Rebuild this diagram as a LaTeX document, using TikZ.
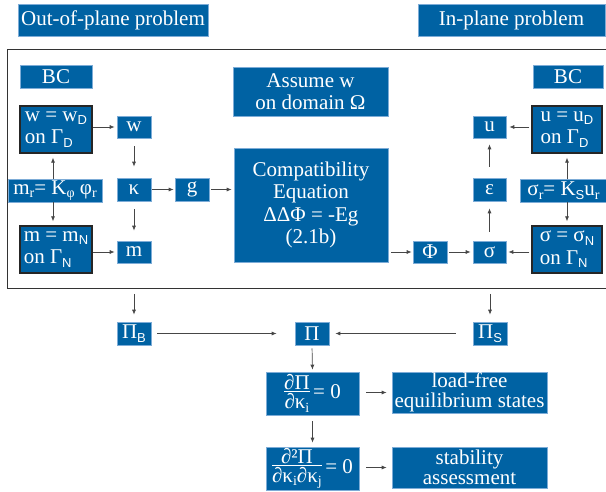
\documentclass[tikz,border=0pt]{standalone}
\usepackage{fontspec}
\setmainfont{Liberation Serif}
\newfontfamily\serifmain{Liberation Serif}
\newfontfamily\subsf{Liberation Sans}
\usetikzlibrary{arrows.meta}
\definecolor{boxblue}{RGB}{0,98,163}
\definecolor{edgeblue}{RGB}{125,172,215}
\definecolor{arrowgray}{RGB}{70,70,70}
\newcommand\subs[1]{\raisebox{-3.5pt}{\fontsize{13}{13}\selectfont\subsf #1}}
\newcommand\subr[1]{\raisebox{-3.5pt}{\fontsize{14}{14}\selectfont #1}}
\newcommand\pfrac[2]{$\vcenter{\offinterlineskip\halign{\hfil##\hfil\cr #1\cr\noalign{\kern1.5pt\hrule height0.8pt\kern1.5pt}#2\cr}}$}
\tikzset{
  bx/.style={draw=edgeblue, line width=0.6pt, fill=boxblue, text=white, inner sep=0pt,
    font=\serifmain\fontsize{21}{22.5}\selectfont, align=center},
  bcbox/.style={bx, draw=black!85, line width=1.3pt, align=left},
  twoline/.style={font=\serifmain\fontsize{21}{20}\selectfont},
  sz/.style 2 args={minimum width=#1, minimum height=#2},
  arr/.style={draw=arrowgray, line width=0.7pt, -{Latex[length=5pt,width=4pt]}},
  framestyle/.style={draw=black!80, line width=1pt},
}
\begin{document}
\begin{tikzpicture}[x=1pt,y=-1pt]
\useasboundingbox (0,0) rectangle (606,492);
% frame
\draw[framestyle] (608,50) -- (7,50) -- (7,289) -- (608,289);
\coordinate (fB) at (134,289);
\coordinate (fS) at (490,289);
% headers
\node[bx, sz={190pt}{32pt}] (oop) at (113,20) {Out-of-plane problem};
\node[bx, sz={187pt}{32pt}] (ip) at (511.5,20) {In-plane problem};
% top row
\node[bx, sz={72pt}{23pt}] (bcL) at (56,76.5) {BC};
\node[bx, sz={155pt}{49pt}] (assume) at (310.5,91.5) {Assume w\\on domain Ω};
\node[bx, sz={70pt}{23pt}] (bcR) at (568,76.5) {BC};
% left column
\node[bcbox, sz={72pt}{47pt}] (wD) at (56,129.5) {w = w\subs{D}\\on Γ\subs{D}};
\node[bx, sz={94pt}{23pt}] (mr) at (55,190.5) {m\subr{r}= K\subr{φ} φ\subr{r}};
\node[bcbox, sz={72pt}{47pt}] (mN) at (56,249.5) {m = m\subs{N}\\on Γ\subs{N}};
\node[bx, sz={34pt}{22pt}] (w) at (134,127) {w};
\node[bx, sz={34pt}{23pt}] (kap) at (134,189.5) {κ};
\node[bx, sz={34pt}{22pt}] (m) at (134,252) {m};
\node[bx, sz={34pt}{23pt}] (g) at (192,189.5) {g};
% centre
\node[bx, sz={154pt}{114pt}] (comp) at (311,205) {Compatibility\\Equation\\ΔΔΦ = -Eg\\(2.1b)};
% right column
\node[bcbox, sz={70pt}{47pt}] (uD) at (567,129.5) {u = u\subs{D}\\on Γ\subs{D}};
\node[bx, sz={87pt}{23pt}] (sigr) at (563.5,190.5) {σ\subr{r}= K\subs{S}u\subr{r}};
\node[bcbox, sz={70pt}{47pt}] (sN) at (567,249.5) {σ = σ\subs{N}\\on Γ\subs{N}};
\node[bx, sz={33pt}{22pt}] (u) at (489.5,127) {u};
\node[bx, sz={33pt}{23pt}] (eps) at (489.5,189.5) {ε};
\node[bx, sz={33pt}{22pt}] (sig) at (489.5,252) {σ};
\node[bx, sz={34pt}{22pt}] (Phi) at (430,252) {Φ};
% energy
\node[bx, sz={34pt}{23pt}] (PiB) at (134,333.5) {Π\subs{B}};
\node[bx, sz={34pt}{23pt}] (Pi) at (312,333.5) {Π};
\node[bx, sz={34pt}{23pt}] (PiS) at (490,333.5) {Π\subs{S}};
\node[bx, sz={93pt}{43pt}] (d1) at (312.5,393.5) {\pfrac{∂Π}{∂κ\subr{i}}\,= 0};
\node[bx, twoline, sz={155pt}{41pt}] (lf) at (469.5,392.5) {load-free\\equilibrium states};
\node[bx, sz={93pt}{43pt}] (d2) at (312.5,468.5) {\pfrac{∂²Π}{∂κ\subr{i}∂κ\subr{j}}\,= 0};
\node[bx, twoline, sz={155pt}{41pt}] (st) at (469.5,467.5) {stability\\assessment};
% connectors left
\draw[arr, shorten >=2pt] (wD.east |- w) -- (w.west);
\draw[arr, shorten <=8pt, shorten >=11pt] (w.south) -- (kap.north);
\draw[arr, shorten <=1pt, shorten >=1pt] (kap.east) -- (g.west);
\draw[arr, shorten <=2pt, shorten >=2pt] (g.east) -- (g.east -| comp.west);
\draw[arr, shorten <=8pt, shorten >=10pt] (kap.south) -- (m.north);
\draw[arr, shorten >=2pt] (mN.east |- m) -- (m.west);
\draw[arr, shorten >=4pt] ([xshift=-2pt]mr.north) -- ([xshift=-2pt]mr.north |- wD.south);
\draw[arr, shorten >=4pt] ([xshift=-2pt]mr.south) -- ([xshift=-2pt]mr.south |- mN.north);
% connectors right
\draw[arr, shorten <=3pt, shorten >=1pt] (comp.east |- Phi) -- (Phi.west);
\draw[arr, shorten <=2pt, shorten >=2pt] (Phi.east) -- (sig.west);
\draw[arr, shorten <=2pt, shorten >=2pt] (sN.west |- sig) -- (sig.east);
\draw[arr, shorten <=9pt, shorten >=7pt] (sig.north) -- (eps.south);
\draw[arr, shorten <=11pt, shorten >=6pt] (eps.north) -- (u.south);
\draw[arr, shorten <=2pt, shorten >=3pt] (uD.west |- u) -- (u.east);
\draw[arr, shorten >=4pt] (sigr.north -| uD) -- (uD.south);
\draw[arr, shorten >=4pt] (sigr.south -| sN) -- (sN.north);
% energy connectors
\draw[arr, shorten <=5pt, shorten >=7pt] (fB) -- (PiB.north);
\draw[arr, shorten <=5pt, shorten >=7pt] (fS) -- (PiS.north);
\draw[arr, shorten <=6pt, shorten >=18pt] (PiB.east) -- (Pi.west);
\draw[arr, shorten <=17pt, shorten >=6pt] (PiS.west) -- (Pi.east);
\draw[arr, shorten <=3pt, shorten >=2pt] (Pi.south) -- (d1.north);
\draw[arr, shorten <=6pt, shorten >=4pt] (d1.south) -- (d2.north);
\draw[arr, shorten <=7pt, shorten >=5pt] (d1.east |- lf) -- (lf.west);
\draw[arr, shorten <=7pt, shorten >=5pt] (d2.east |- st) -- (st.west);
\end{tikzpicture}
\end{document}
